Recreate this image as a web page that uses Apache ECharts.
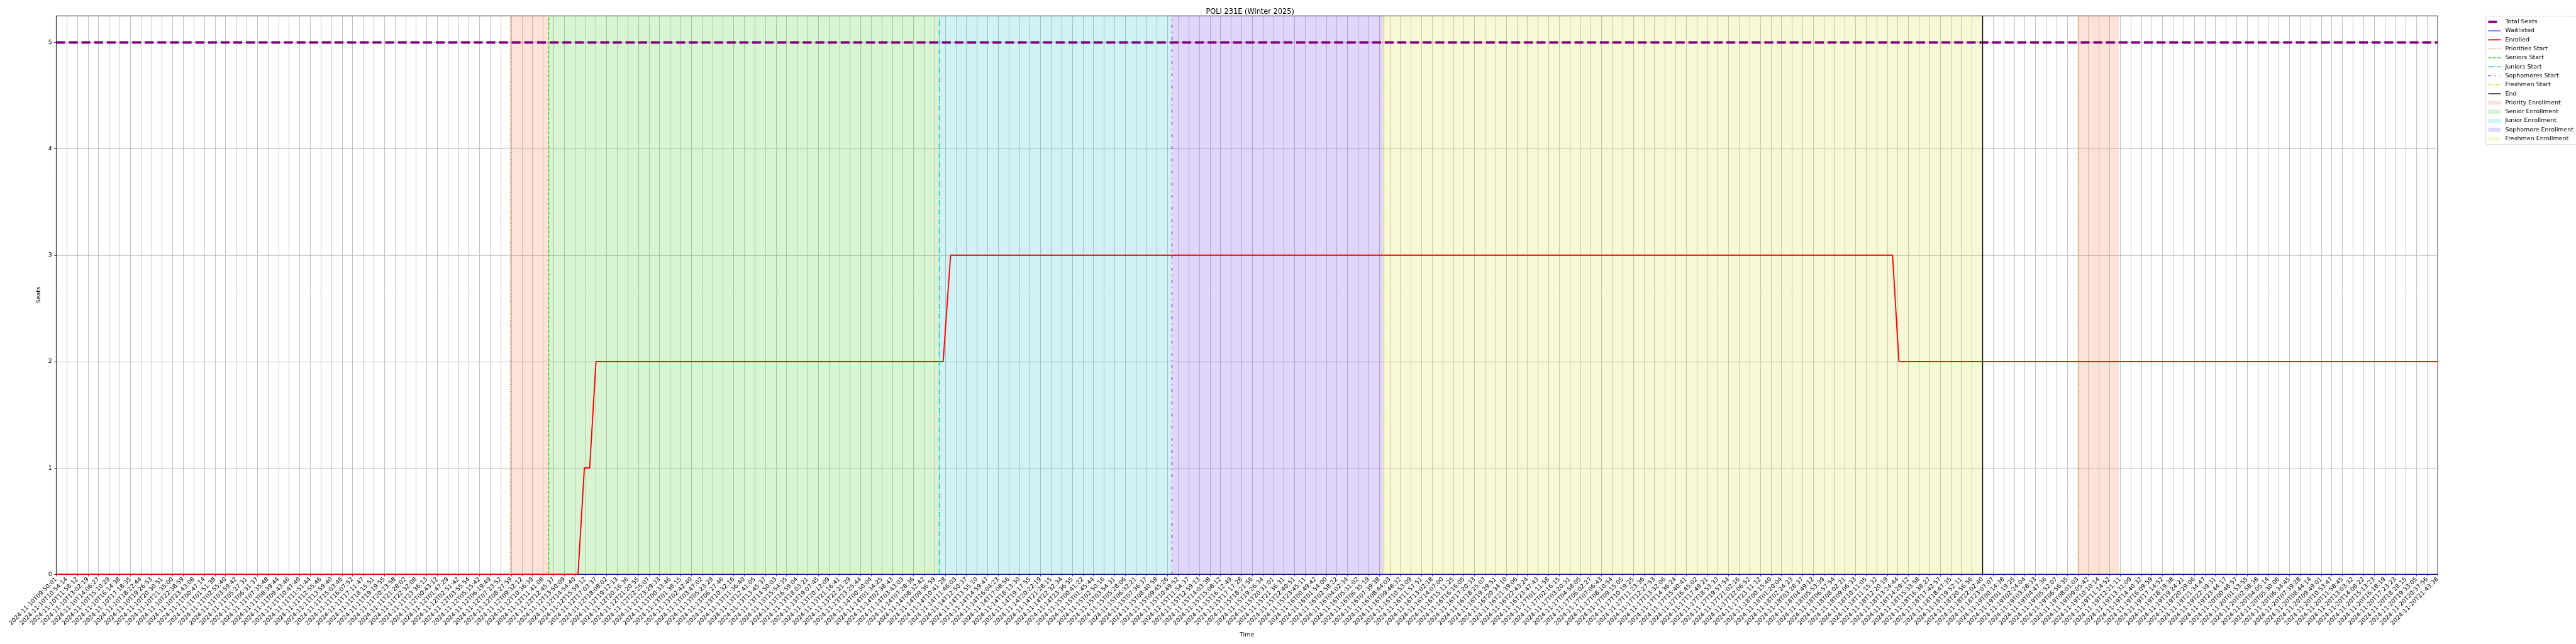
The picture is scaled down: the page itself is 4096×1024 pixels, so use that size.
<!DOCTYPE html>
<html>
<head>
<meta charset="utf-8">
<script src="https://cdn.jsdelivr.net/npm/echarts@6/dist/echarts.min.js"></script>
<style>
html,body{margin:0;padding:0;background:#fff;}
#chart{width:4096px;height:1024px;}
</style>
</head>
<body>
<div id="chart"></div>
<script>
// ---------------- DATA ----------------
const xLabels = [
"2024-11-10T09:50:01","2024-11-10T10:54:14","2024-11-10T11:58:12","2024-11-10T13:02:19","2024-11-10T14:06:27",
"2024-11-10T15:10:29","2024-11-10T16:14:38","2024-11-10T17:18:35","2024-11-10T18:22:44","2024-11-10T19:26:53",
"2024-11-10T20:30:51","2024-11-10T21:35:00","2024-11-10T22:38:59","2024-11-10T23:43:08","2024-11-11T00:47:14",
"2024-11-11T01:51:38","2024-11-11T02:55:40","2024-11-11T03:59:42","2024-11-11T05:27:31","2024-11-11T06:31:37",
"2024-11-11T07:35:48","2024-11-11T08:39:44","2024-11-11T09:43:46","2024-11-11T10:47:40","2024-11-11T11:51:44",
"2024-11-11T12:55:46","2024-11-11T13:59:40","2024-11-11T15:03:46","2024-11-11T16:07:52","2024-11-11T17:11:47",
"2024-11-11T18:15:51","2024-11-11T19:19:55","2024-11-11T20:23:58","2024-11-11T21:28:02","2024-11-11T22:32:08",
"2024-11-11T23:36:13","2024-11-12T00:43:12","2024-11-12T01:47:29","2024-11-12T02:51:42","2024-11-12T03:55:54",
"2024-11-12T05:15:42","2024-11-12T06:19:49","2024-11-12T07:23:52","2024-11-12T08:27:59","2024-11-12T09:32:12",
"2024-11-12T10:36:39","2024-11-12T11:41:08","2024-11-12T12:45:37","2024-11-12T13:50:09","2024-11-12T14:54:40",
"2024-11-12T15:59:12","2024-11-12T17:03:37","2024-11-12T18:08:02","2024-11-12T19:12:13","2024-11-12T20:16:36",
"2024-11-12T21:20:55","2024-11-12T22:25:07","2024-11-12T23:29:33","2024-11-13T00:33:46","2024-11-13T01:38:15",
"2024-11-13T02:42:40","2024-11-13T03:47:02","2024-11-13T05:23:29","2024-11-13T06:27:46","2024-11-13T10:32:16",
"2024-11-13T11:36:40","2024-11-13T12:41:05","2024-11-13T13:45:37","2024-11-13T14:50:03","2024-11-13T15:54:35",
"2024-11-13T16:59:04","2024-11-13T18:03:21","2024-11-13T19:07:45","2024-11-13T20:12:09","2024-11-13T21:16:41",
"2024-11-13T22:21:29","2024-11-13T23:25:44","2024-11-14T00:30:04","2024-11-14T01:34:25","2024-11-14T02:38:43",
"2024-11-14T03:43:03","2024-11-14T07:28:36","2024-11-14T08:32:42","2024-11-14T09:36:59","2024-11-14T10:41:28",
"2024-11-14T11:46:03","2024-11-14T12:50:37","2024-11-14T13:55:10","2024-11-14T14:59:47","2024-11-14T16:04:23",
"2024-11-14T17:08:56","2024-11-14T18:13:30","2024-11-14T19:17:55","2024-11-14T20:22:19","2024-11-14T21:28:15",
"2024-11-14T22:32:34","2024-11-14T23:36:55","2024-11-15T00:41:22","2024-11-15T01:45:44","2024-11-15T02:50:16",
"2024-11-15T03:54:31","2024-11-15T05:28:06","2024-11-15T06:32:21","2024-11-15T07:36:37","2024-11-15T08:40:58",
"2024-11-15T09:45:26","2024-11-15T10:49:52","2024-11-15T11:54:37","2024-11-15T12:59:13","2024-11-15T14:03:38",
"2024-11-15T15:08:12","2024-11-15T16:12:49","2024-11-15T17:17:28","2024-11-15T18:21:56","2024-11-15T19:26:34",
"2024-11-15T20:31:01","2024-11-15T21:36:31","2024-11-15T22:40:51","2024-11-15T23:45:11","2024-11-16T00:49:42",
"2024-11-16T01:54:00","2024-11-16T02:58:22","2024-11-16T04:02:34","2024-11-16T05:31:02","2024-11-16T06:35:19",
"2024-11-16T07:39:38","2024-11-16T08:44:03","2024-11-16T09:48:32","2024-11-16T10:53:09","2024-11-16T11:57:51",
"2024-11-16T13:02:18","2024-11-16T14:07:00","2024-11-16T15:11:25","2024-11-16T16:16:05","2024-11-16T17:20:33",
"2024-11-16T18:25:07","2024-11-16T19:29:51","2024-11-16T20:34:10","2024-11-16T21:39:06","2024-11-16T22:43:24",
"2024-11-16T23:47:43","2024-11-17T01:11:58","2024-11-17T02:16:15","2024-11-17T03:20:31","2024-11-17T04:58:05",
"2024-11-17T06:02:27","2024-11-17T07:06:43","2024-11-17T08:10:54","2024-11-17T09:15:05","2024-11-17T10:19:25",
"2024-11-17T11:23:36","2024-11-17T12:27:53","2024-11-17T13:32:06","2024-11-17T14:36:24","2024-11-17T15:40:41",
"2024-11-17T16:45:02","2024-11-17T17:49:21","2024-11-17T18:53:33","2024-11-17T19:57:54","2024-11-17T21:02:16",
"2024-11-17T22:06:52","2024-11-17T23:11:12","2024-11-18T00:15:40","2024-11-18T01:20:04","2024-11-18T02:24:23",
"2024-11-18T03:28:37","2024-11-18T04:49:12","2024-11-18T05:53:39","2024-11-18T06:57:54","2024-11-18T08:02:21",
"2024-11-18T09:06:33","2024-11-18T10:11:05","2024-11-18T11:15:32","2024-11-18T12:20:19","2024-11-18T13:24:44",
"2024-11-18T14:29:12","2024-11-18T15:33:58","2024-11-18T16:38:27","2024-11-18T17:42:57","2024-11-18T18:47:35",
"2024-11-18T19:52:11","2024-11-18T20:56:56","2024-11-18T22:02:40","2024-11-18T23:07:07","2024-11-19T00:14:38",
"2024-11-19T01:19:25","2024-11-19T02:24:04","2024-11-19T03:28:33","2024-11-19T04:47:36","2024-11-19T05:52:07",
"2024-11-19T06:56:35","2024-11-19T08:01:03","2024-11-19T09:05:42","2024-11-19T10:10:14","2024-11-19T11:14:52",
"2024-11-19T12:21:11","2024-11-19T13:31:09","2024-11-19T14:40:32","2024-11-19T16:09:59","2024-11-19T17:14:52",
"2024-11-19T18:19:38","2024-11-19T19:24:21","2024-11-19T20:29:06","2024-11-19T21:34:47","2024-11-19T22:39:31",
"2024-11-19T23:44:17","2024-11-20T00:48:57","2024-11-20T01:53:55","2024-11-20T02:58:38","2024-11-20T04:05:14",
"2024-11-20T05:30:06","2024-11-20T06:34:45","2024-11-20T07:39:28","2024-11-20T08:44:14","2024-11-20T09:49:01",
"2024-11-20T10:53:47","2024-11-20T11:58:45","2024-11-20T13:03:32","2024-11-20T14:08:22","2024-11-20T15:13:23",
"2024-11-20T16:18:19","2024-11-20T17:23:23","2024-11-20T18:28:15","2024-11-20T19:33:05","2024-11-20T20:37:56",
"2024-11-20T21:43:38"
];
const yTicks = [0, 1, 2, 3, 4, 5];

// positions are in sample-index units along the x axis
const totalSeatsX = [0, 225];
const totalSeatsY = [5, 5];
const waitlistedX = [0, 225];
const waitlistedY = [0, 0];
const enrolledX = [0, 49.3, 49.9, 50.4, 51.0, 83.8, 84.5, 173.5, 174.1, 225];
const enrolledY = [0, 0, 1, 1, 2, 2, 3, 3, 2, 2];

const prioritiesStart = [42.9, 191.0];
const seniorsStart = [46.5];
const juniorsStart = [83.4];
const sophomoresStart = [105.4];
const freshmenStart = [125.4];
const endTime = [182.0];

const priorityPeriods = [[42.9, 46.5], [191.0, 194.9]];
const seniorPeriods = [[46.5, 83.4]];
const juniorPeriods = [[83.4, 105.4]];
const sophomorePeriods = [[105.4, 125.4]];
const freshmenPeriods = [[125.4, 182.0]];

// ---------------- STYLE ----------------
const S = 0.682;
const FONT = 'DejaVu Sans';
const fs = 13.9 * S;
const C = {
  total: '#800080', wait: '#0000ff', enr: '#ff0000',
  prio: '#ee7040', senior: '#3cc81e', junior: '#17becf', soph: '#6a2be0', fresh: '#dede30', end: '#000000'
};
const lw = 2.08 * S;

function pairs(xs, ys) { return xs.map((x, i) => [x, ys[i]]); }
function vline(name, xs, color, type, width) {
  return {
    name, type: 'line', data: [], symbol: 'none', silent: true, animation: false,
    lineStyle: { color, width, type }, itemStyle: { color },
    markLine: {
      silent: true, symbol: ['none', 'none'], animation: false, label: { show: false },
      lineStyle: { color, width, type },
      data: xs.map(x => ({ xAxis: x }))
    }
  };
}
function span(name, periods, color, alpha) {
  return {
    name, type: 'line', data: [], symbol: 'none', silent: true, animation: false, z: 1,
    itemStyle: { color, opacity: alpha }, lineStyle: { color, width: 0 },
    markArea: {
      silent: true, animation: false, label: { show: false },
      itemStyle: { color, opacity: alpha },
      data: periods.map(p => [{ xAxis: p[0] }, { xAxis: p[1] }])
    }
  };
}
const noSym = { opacity: 0 };

const chart = echarts.init(document.getElementById('chart'), null, { renderer: 'canvas' });
const option = {
  animation: false,
  backgroundColor: '#ffffff',
  textStyle: { fontFamily: FONT },
  title: {
    text: 'POLI 231E (Winter 2025)',
    left: 89.4 + (3876 - 89.4) / 2, textAlign: 'center', top: 9,
    textStyle: { fontFamily: FONT, fontSize: 16.7 * S, fontWeight: 'normal', color: '#000' }
  },
  grid: { left: 89.4, top: 25.2, width: 3876 - 89.4, height: 913.2 - 25.2, show: true,
          borderColor: '#000', borderWidth: 0.76, backgroundColor: 'transparent', containLabel: false },
  legend: {
    orient: 'vertical', left: 3952, top: 25.7, align: 'left',
    padding: [4, 6, 4, 2.5], itemWidth: 20, itemHeight: 6.5, itemGap: 4.3,
    backgroundColor: 'rgba(255,255,255,0.8)', borderColor: '#cccccc', borderWidth: 0.8, borderRadius: 3,
    textStyle: { fontFamily: FONT, fontSize: fs, lineHeight: 10, color: '#000', padding: [0, 0, 0, 2] },
    lineStyle: { width: 'inherit', type: 'inherit' },
    selectedMode: false,
    data: [
      { name: 'Total Seats', itemStyle: noSym }, { name: 'Waitlisted', itemStyle: noSym }, { name: 'Enrolled', itemStyle: noSym },
      { name: 'Priorities Start', itemStyle: noSym }, { name: 'Seniors Start', itemStyle: noSym }, { name: 'Juniors Start', itemStyle: noSym },
      { name: 'Sophomores Start', itemStyle: noSym }, { name: 'Freshmen Start', itemStyle: noSym }, { name: 'End', itemStyle: noSym },
      { name: 'Priority Enrollment', icon: 'rect' }, { name: 'Senior Enrollment', icon: 'rect' },
      { name: 'Junior Enrollment', icon: 'rect' }, { name: 'Sophomore Enrollment', icon: 'rect' },
      { name: 'Freshmen Enrollment', icon: 'rect' }
    ]
  },
  xAxis: {
    type: 'value', min: 0, max: xLabels.length - 1, interval: 1,
    name: 'Time', nameLocation: 'middle', nameGap: 92,
    nameTextStyle: { fontFamily: FONT, fontSize: fs, color: '#000' },
    axisLine: { show: true, lineStyle: { color: '#000', width: 0.76 } },
    axisTick: { show: true, length: 4.86 * S, lineStyle: { color: '#000', width: 0.76 } },
    axisLabel: {
      show: true, rotate: 45, margin: 9.7 * S, fontFamily: FONT, fontSize: fs, color: '#000',
      hideOverlap: false, showMinLabel: true, showMaxLabel: true,
      formatter: v => (Number.isInteger(v) && xLabels[v] !== undefined) ? xLabels[v] : ''
    },
    splitLine: { show: true, lineStyle: { color: '#b0b0b0', width: 0.76 } }
  },
  yAxis: {
    type: 'value', min: 0, max: 5.25, interval: 1,
    name: 'Seats', nameLocation: 'middle', nameGap: 16, nameRotate: 90,
    nameTextStyle: { fontFamily: FONT, fontSize: fs, color: '#000' },
    axisLine: { show: true, lineStyle: { color: '#000', width: 0.76 } },
    axisTick: { show: true, length: 4.86 * S, customValues: yTicks, lineStyle: { color: '#000', width: 0.76 } },
    axisLabel: { show: true, margin: 9.7 * S, fontFamily: FONT, fontSize: fs, color: '#000', customValues: yTicks,
                 formatter: v => String(v) },
    splitLine: { show: true, lineStyle: { color: '#b0b0b0', width: 0.76 } }
  },
  series: [
    span('Priority Enrollment', priorityPeriods, C.prio, 0.2),
    span('Senior Enrollment', seniorPeriods, C.senior, 0.2),
    span('Junior Enrollment', juniorPeriods, C.junior, 0.2),
    span('Sophomore Enrollment', sophomorePeriods, C.soph, 0.2),
    span('Freshmen Enrollment', freshmenPeriods, C.fresh, 0.2),
    { name: 'Total Seats', type: 'line', data: pairs(totalSeatsX, totalSeatsY), symbol: 'none', animation: false, z: 3,
      lineStyle: { color: C.total, width: 5.56 * S, type: [20.6 * S, 8.9 * S], cap: 'butt' }, itemStyle: { color: C.total } },
    { name: 'Waitlisted', type: 'line', data: pairs(waitlistedX, waitlistedY), symbol: 'none', animation: false, z: 3,
      lineStyle: { color: C.wait, width: 1.39 * S }, itemStyle: { color: C.wait } },
    { name: 'Enrolled', type: 'line', data: pairs(enrolledX, enrolledY), symbol: 'none', animation: false, z: 3,
      lineStyle: { color: C.enr, width: 2.78 * S }, itemStyle: { color: C.enr } },
    Object.assign(vline('Priorities Start', prioritiesStart, C.prio, [2.08 * S, 3.44 * S], lw), { z: 4 }),
    Object.assign(vline('Seniors Start', seniorsStart, C.senior, [7.7 * S, 3.33 * S], lw), { z: 4 }),
    Object.assign(vline('Juniors Start', juniorsStart, C.junior, [13.3 * S, 3.33 * S, 2.08 * S, 3.33 * S], lw), { z: 4 }),
    Object.assign(vline('Sophomores Start', sophomoresStart, C.soph, [6.25 * S, 10 * S, 2.08 * S, 10 * S], lw), { z: 4 }),
    Object.assign(vline('Freshmen Start', freshmenStart, C.fresh, [6.25 * S, 2.08 * S, 2.08 * S, 2.08 * S, 2.08 * S, 2.08 * S], lw), { z: 4 }),
    Object.assign(vline('End', endTime, C.end, 'solid', lw), { z: 4 })
  ]
};
chart.setOption(option);
</script>
</body>
</html>
